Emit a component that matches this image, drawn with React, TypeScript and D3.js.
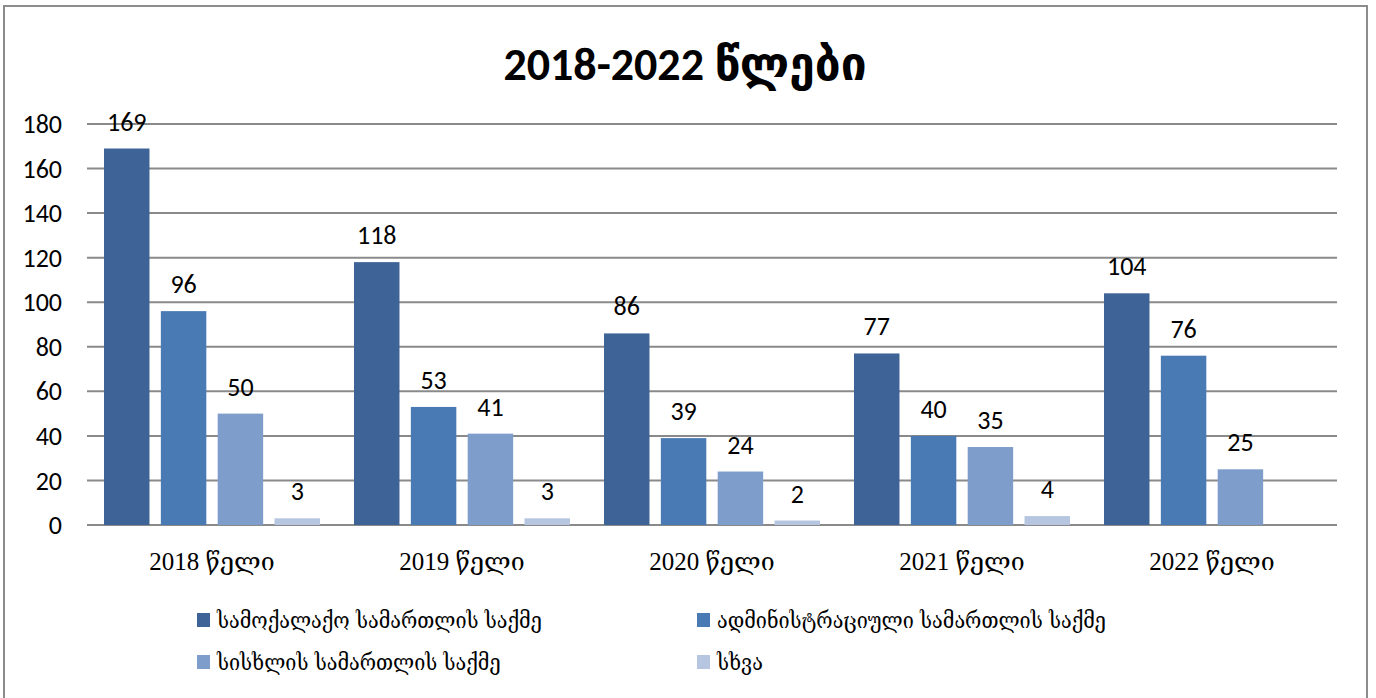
import * as d3 from "d3";

const categories = ["2018 წელი", "2019 წელი", "2020 წელი", "2021 წელი", "2022 წელი"];
const seriesNames = [
  "სამოქალაქო სამართლის საქმე",
  "ადმინისტრაციული სამართლის საქმე",
  "სისხლის სამართლის საქმე",
  "სხვა",
];
const civil = [169, 118, 86, 77, 104];
const admin = [96, 53, 39, 40, 76];
const criminal = [50, 41, 24, 35, 25];
const other: (number | null)[] = [3, 3, 2, 4, null];
const yTicks = [0, 20, 40, 60, 80, 100, 120, 140, 160, 180];
const colors = ["#3E6497", "#4A7AB4", "#7F9DCA", "#B6C5E0"];

const W = 1376;
const H = 698;
const margin = { left: 87, right: 39, top: 124, bottom: 173 };

const numFont = "Carlito, Calibri, 'Liberation Sans', 'DejaVu Sans', sans-serif";
const serifFont = "'Liberation Serif', 'DejaVu Serif', serif";
const geoFont = "'DejaVu Serif Condensed', 'DejaVu Serif', serif";

const App = () => {
  const series = [civil, admin, criminal, other];
  const x = d3
    .scaleBand()
    .domain(categories)
    .range([margin.left, W - margin.right])
    .padding(0);
  const inner = d3
    .scaleBand<number>()
    .domain([0, 1, 2, 3])
    .range([17, x.bandwidth() - 17])
    .paddingInner(0.2)
    .paddingOuter(0);
  const y = d3
    .scaleLinear()
    .domain([0, 180])
    .range([H - margin.bottom, margin.top]);

  return (
    <svg width={W} height={H} style={{ position: "absolute", left: 0, top: 0, background: "white" }}>
      <rect x={4} y={6} width={1363} height={H} fill="white" stroke="#8c8c8c" strokeWidth={2} />
      <text
        x={685}
        y={80}
        textAnchor="middle"
        fontFamily={numFont}
        fontWeight="bold"
        fontSize={46}
        fill="#000"
      >
        2018-2022 წლები
      </text>

      {yTicks.map((t) => (
        <g key={t}>
          <line x1={margin.left} x2={W - margin.right} y1={y(t)} y2={y(t)} stroke="#8a8a8a" strokeWidth={2} />
          <text
            x={62}
            y={y(t)}
            dy="0.35em"
            textAnchor="end"
            fontFamily={numFont}
            fontSize={26}
            fill="#000"
          >
            {t}
          </text>
        </g>
      ))}

      {categories.map((c, ci) => (
        <g key={c} transform={`translate(${x(c)},0)`}>
          {series.map((s, si) => {
            const v = s[ci];
            if (v == null) return null;
            const bx = inner(si) ?? 0;
            return (
              <g key={si}>
                <rect
                  x={bx}
                  y={y(v)}
                  width={inner.bandwidth()}
                  height={y(0) - y(v)}
                  fill={colors[si]}
                />
                <text
                  x={bx + inner.bandwidth() / 2}
                  y={y(v) - 18}
                  textAnchor="middle"
                  fontFamily={numFont}
                  fontSize={26}
                  fill="#000"
                >
                  {v}
                </text>
              </g>
            );
          })}
          <text
            x={x.bandwidth() / 2}
            y={570}
            textAnchor="middle"
            fontFamily={serifFont}
            fontSize={25}
            fill="#000"
          >
            {c}
          </text>
        </g>
      ))}

      {seriesNames.map((n, i) => {
        const lx = i % 2 === 0 ? 197 : 697;
        const ly = i < 2 ? 620 : 662;
        return (
          <g key={n}>
            <rect x={lx} y={ly - 7} width={13} height={14} fill={colors[i]} />
            <text x={lx + 20} y={ly} dy="0.35em" fontFamily={geoFont} fontSize={22} fill="#000">
              {n}
            </text>
          </g>
        );
      })}
    </svg>
  );
};

export default App;
